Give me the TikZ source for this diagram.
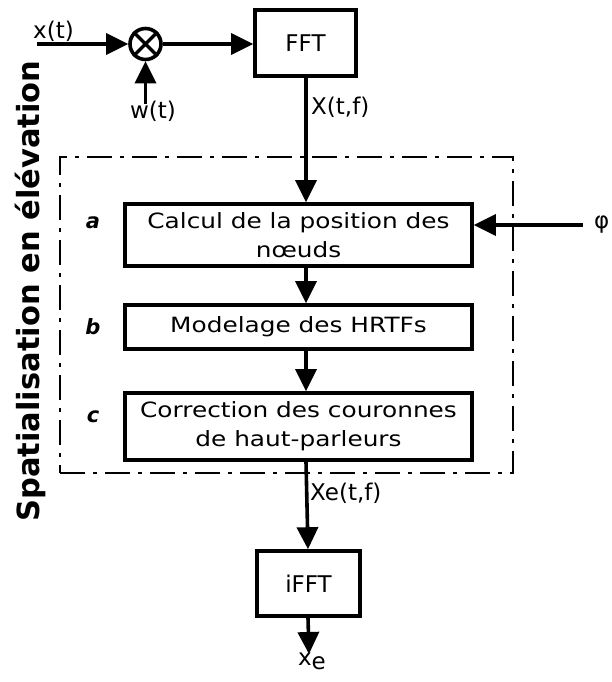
\documentclass[tikz,border=0pt]{standalone}
\usepackage{fontspec}
\setmainfont{DejaVu Sans}
\newfontfamily\boxfont{DejaVu Sans}[FakeStretch=1.18]
\usepackage{tikz}
\usetikzlibrary{arrows.meta,positioning,calc}

\begin{document}
\begin{tikzpicture}[
  x=1pt,y=-1pt,
  font=\fontsize{23}{27}\selectfont,
  block/.style={draw=black,line width=3.6pt,minimum width=347pt,align=center,inner sep=0pt,
    font=\boxfont\fontsize{21}{29}\selectfont},
  tbox/.style={draw=black,line width=3.6pt,align=center,inner sep=0pt},
  arr/.style={-{Triangle[length=22pt,width=21pt]},line width=3.6pt},
  zone/.style={draw=black,line width=2.8pt,dash pattern=on 25pt off 8pt on 4pt off 8pt,inner sep=0pt},
  tag/.style={font=\fontsize{21}{25}\selectfont\bfseries\itshape}
]
\useasboundingbox (0,0) rectangle (611,682);
% frame of the elevation block
\node[zone,minimum width=453pt,minimum height=316pt] (zone) at (286.5,315) {};
\node[rotate=90,font=\fontsize{30.5}{34}\selectfont\bfseries] (title) at (30,291) {Spatialisation en élévation};
% input stage
\coordinate (xin) at (37,44);
\node[draw,circle,line width=3.6pt,minimum size=31pt,inner sep=0pt] (mult) at (145.5,44) {};
\draw[line width=3.2pt] (mult.north west)--(mult.south east) (mult.north east)--(mult.south west);
\node[anchor=base west,inner sep=0pt] (xlab) at (33,39) {x(t)};
\coordinate (win) at (145.5,104);
\node[anchor=base,inner sep=0pt] (wlab) at (153,118) {w(t)};
\node[tbox,minimum width=101pt,minimum height=66pt] (fft) at (305.5,43) {FFT};
% processing blocks
\node[block,minimum height=62pt] (calc) at (298.5,235) {Calcul de la position des\\nœuds};
\node[block,minimum height=44pt] (hrtf) at (298.5,327) {Modelage des HRTFs};
\node[block,minimum height=67pt] (corr) at (298.5,426.5) {Correction des couronnes\\de haut-parleurs};
\node[tag] (ta) at (93,223) {a};
\node[tag] (tb) at (93,327) {b};
\node[tag] (tc) at (93,417) {c};
\coordinate (phin) at (583,225);
\node[anchor=west,inner sep=0pt] (phi) at (594,225) {φ};
% output stage
\node[tbox,minimum width=103pt,minimum height=65pt] (ifft) at (308.5,583.5) {iFFT};
\coordinate (xout) at (309,654);
\node[anchor=base,inner sep=0pt] (xe) at (312,665) {x\raisebox{-0.35ex}{e}};
% connectors
\draw[arr] (xin)--(mult.west);
\draw[arr] (win)--(mult.south);
\draw[arr] (mult.east)--(fft.west|-mult.east);
\draw[arr] (fft.south-|306,0)--(calc.north-|306,0);
\node[anchor=base west,inner sep=0pt] (xtf) at (311,115) {X(t,f)};
\draw[arr] (phin)--(calc.east|-phin);
\draw[arr] (calc.south-|306,0)--(hrtf.north-|306,0);
\draw[arr] (hrtf.south-|306,0)--(corr.north-|306,0);
\draw[arr] (corr.south-|306,0)--(ifft.north-|308,0);
\node[anchor=base west,inner sep=0pt] (xetf) at (310,500) {Xe(t,f)};
\draw[arr] (ifft.south-|308,0)--(xout);
\end{tikzpicture}
\end{document}
